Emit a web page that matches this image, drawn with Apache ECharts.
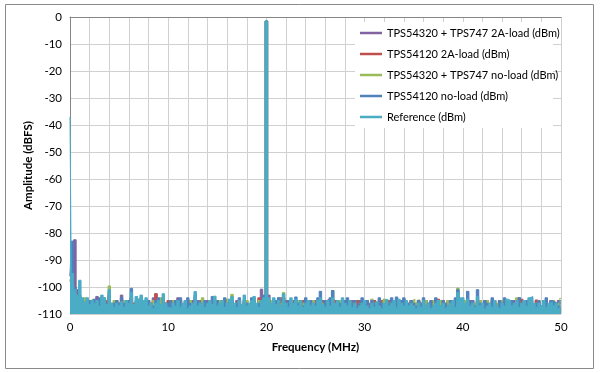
<!DOCTYPE html>
<html><head><meta charset="utf-8">
<script src="https://cdn.jsdelivr.net/npm/echarts@6/dist/echarts.min.js"></script>
<style>html,body{margin:0;padding:0;background:#fff}#c{width:600px;height:373px}</style>
</head><body><div id="c"></div>
<script>
// Frequency grid: one sample every 0.25 MHz from 0 to 50 MHz (201 samples)
const FREQ_STEP = 0.25;
const seriesNames = [
  'TPS54320 + TPS747 2A-load (dBm)',
  'TPS54120 2A-load (dBm)',
  'TPS54320 + TPS747 no-load (dBm)',
  'TPS54120 no-load (dBm)',
  'Reference (dBm)'
];
const yTicks = [0,-10,-20,-30,-40,-50,-60,-70,-80,-90,-100,-110];
const xTicks = [0,10,20,30,40,50];

const tps54320_2A = [
-96,-90,-82.5,-101,-104,-105,-106,-105,-107,-106,-105,-103.5,-106,-107,-105,-106,-104,-107,-106,-105,
-106,-103,-107,-106,-105,-104,-106,-107,-105,-104,-106,-107,-105,-106,-104,-102.5,-106,-107,-105,-106,
-107,-106,-105,-107,-104,-106,-107,-105,-106,-107,-105,-106,-107,-105,-106,-107,-105,-106,-107,-105,
-106,-107,-105,-106,-107,-105,-106,-107,-105,-106,-107,-105,-106,-107,-105,-106,-107,-105,-100.8,-105,
-1.5,-103,-106,-105,-107,-106,-104,-107,-105,-106,-107,-105,-106,-107,-105,-106,-107,-105,-106,-107,
-105,-106,-107,-105,-106,-107,-105,-106,-107,-105,-106,-107,-105,-106,-107,-105,-106,-107,-105,-106,
-107,-105,-106,-107,-105,-106,-107,-105,-106,-107,-105,-106,-107,-105,-106,-107,-105,-106,-107,-105,
-106,-107,-105,-106,-107,-105,-106,-107,-105,-106,-107,-105,-106,-107,-105,-106,-107,-105,-106,-107,
-105,-106,-107,-105,-106,-107,-105,-106,-107,-105,-106,-107,-105,-106,-107,-105,-106,-107,-105,-106,
-107,-105,-106,-104,-105,-106,-107,-105,-106,-107,-105,-106,-107,-105,-106,-107,-105,-106,-107,-105,-106
];
const tps54120_2A = [
-98,-96,-101,-104,-105,-106,-105,-107,-106,-105,-107,-106,-105,-107,-106,-105,-102,-107,-106,-105,
-106,-107,-105,-106,-107,-104,-106,-107,-105,-106,-107,-105,-106,-107,-105,-102.5,-106,-107,-104.5,-106,
-105,-106,-105.5,-107,-106,-105,-107,-106,-105,-107,-106,-104,-107,-106,-105,-107,-106,-105,-107,-106,
-105,-107,-106,-105,-107,-106,-105,-107,-106,-105,-107,-106,-105,-107,-106,-105,-107,-104,-106,-105,
-1.5,-106,-105,-107,-106,-105,-107,-104,-106,-105,-107,-106,-105,-107,-106,-105,-107,-106,-105,-107,
-106,-105,-107,-106,-105,-104.6,-106,-107,-105,-106,-107,-105,-106,-107,-105,-106,-107,-105,-106,-107,
-106,-105,-107,-106,-105,-107,-106,-105,-107,-106,-105,-107,-106,-105,-107,-106,-105,-107,-106,-105,
-107,-106,-105,-107,-106,-105,-107,-106,-105,-107,-104.5,-106,-105,-107,-106,-105,-107,-106,-105,-107,
-106,-105,-107,-106,-105,-107,-106,-105,-107,-106,-105,-107,-106,-105,-107,-106,-105,-107,-106,-105,
-107,-106,-105,-107,-104.5,-106,-107,-105,-106,-107,-104.8,-106,-107,-105,-106,-107,-105,-106,-107,-106,-105
];
const tps54320_noLoad = [
-97,-99,-102,-104,-105,-106,-104,-107,-105,-104.5,-106,-107,-105,-106,-104,-107,-99.6,-106,-105,-107,
-106,-107,-105,-106,-107,-105,-107,-106,-104.5,-107,-106,-105,-107,-106,-105,-107,-106,-104,-107,-106,
-107,-106,-105,-107,-106,-105.5,-107,-106,-107,-105,-107,-106,-105,-107,-104,-106,-107,-105,-107,-106,
-107,-105,-106,-107,-104.5,-106,-102.7,-107,-106,-105,-107,-106,-105,-107,-106,-104,-107,-105,-106,-107,
-1.5,-106,-105,-107,-106,-104,-106,-102,-107,-106,-105,-107,-106,-105,-107,-106,-105,-107,-106,-105,
-106,-107,-105,-106,-107,-106,-105,-101.3,-107,-106,-105,-107,-106,-105,-107,-106,-105,-107,-106,-105.5,
-105,-106,-107,-104.5,-106,-107,-105,-106,-104.5,-107,-106,-105,-107,-106,-105,-107,-104.5,-106,-107,-105,
-104.5,-106,-104.8,-107,-106,-105,-107,-106,-105,-107,-106,-105,-107,-106,-105,-107,-106,-105,-100.4,-106,
-107,-105,-106,-107,-105,-106,-107,-105,-106,-107,-105,-106,-107,-105,-106,-107,-105,-106,-107,-105,
-106,-107,-104,-106,-107,-105,-107,-106,-105,-107,-106,-105,-107,-106,-105,-107,-106,-105,-107,-106,-104.2
];
const tps54120_noLoad = [
-96,-83,-100,-104,-103,-105,-106,-107,-105,-106,-104.5,-106,-104,-107,-105,-106,-103,-107,-106,-105,
-106,-104,-106,-107,-105,-100.5,-107,-105,-106,-104,-106,-107,-105,-106,-107,-105,-104,-107,-104,-106,
-106,-105,-107,-105,-106,-104,-107,-106,-104,-106,-107,-103,-105,-106,-107,-105,-106,-107,-103.5,-106,
-105,-107,-106,-104,-107,-106,-105,-107,-106,-104,-107,-105,-106,-107,-104,-105,-107,-106,-105,-103,
-1.5,-105,-107,-106,-105,-104,-107,-104,-106,-105,-107,-106,-103.7,-106,-105,-107,-104,-106,-105,-107,
-106,-104,-101.6,-107,-105,-106,-104,-101.3,-107,-105,-106,-107,-105,-104,-107,-106,-105,-107,-106,-104,
-106,-105,-107,-105,-106,-107,-104,-106,-107,-105,-106,-104,-107,-103.7,-106,-105,-104,-107,-106,-105,
-106,-107,-105,-106,-104,-107,-106,-105,-107,-104,-106,-107,-105,-106,-107,-105,-106,-104,-101,-105,
-106,-107,-101.6,-106,-105,-107,-101,-106,-107,-105,-106,-107,-104,-106,-107,-105,-106,-104,-106,-107,
-105,-107,-106,-104,-107,-105,-105,-106,-104,-107,-106,-105,-107,-106,-104,-107,-105,-105.5,-106,-107,-105
];
const reference = [
-37,-95,-101,-103,-97.5,-104,-105.5,-104,-106.5,-105,-106,-105,-107,-103,-104,-106.5,-101,-106,-107.5,-106,
-107,-105.5,-107.5,-105,-106,-102,-106.5,-103.5,-104.5,-103,-105,-104,-107,-106,-108,-106,-105,-106.5,-102.5,-106,
-107.5,-108,-106,-107,-105,-107.5,-106,-105,-108,-107,-106,-101.7,-107,-106,-105.5,-107.5,-106,-105,-106.5,-103.4,
-107,-106,-105,-107.5,-106,-104.5,-103.5,-106,-107.5,-105,-106.5,-103,-107,-106,-105,-103.5,-106,-107.5,-105,-104,
-1.5,-104,-106,-104,-106.5,-105,-107,-102.5,-106,-107.5,-104,-106,-104.5,-107,-105,-107.5,-106,-105,-107,-106,
-107,-105,-104,-106.5,-107.5,-105,-107,-104,-106,-105,-107.5,-104,-106,-107,-105,-107.5,-106,-108,-107,-106,
-105,-107,-108,-106,-107.5,-105.5,-107,-108,-106,-104.6,-107,-106,-105,-107.5,-104.5,-106,-107,-105,-107,-106,
-107,-108,-106,-107.5,-105,-107,-106,-108,-107,-106,-105,-107,-106,-108,-107,-106,-105,-107.5,-102,-104,
-104,-106,-104.5,-107,-106,-107.5,-103.5,-107,-106,-108,-107,-106,-107.5,-105,-107,-108,-106,-107,-104.5,-105,
-107,-106,-105,-107.5,-106,-105,-107,-104,-103.5,-106,-107.5,-106,-107,-105,-107.5,-106,-105.5,-107,-106,-108,-105
];
const seriesValues = [tps54320_2A, tps54120_2A, tps54320_noLoad, tps54120_noLoad, reference];
const colors = ['#8064A2','#C0504D','#9BBB59','#4F81BD','#4BACC6'];

const FONT = 'Lato';
const chart = echarts.init(document.getElementById('c'), null, {renderer:'canvas'});
chart.setOption({
  animation: false,
  backgroundColor: '#fff',
  grid: {left: 70, right: 39, top: 17, bottom: 59, containLabel: false},
  xAxis: {
    type: 'value', min: 0, max: 50, interval: 2,
    name: 'Frequency (MHz)', nameLocation: 'middle', nameGap: 27,
    nameTextStyle: {fontFamily: FONT, fontSize: 11.5, fontWeight: 'bold', color: '#000'},
    axisLine: {lineStyle: {color: '#868686'}},
    axisTick: {show: false},
    axisLabel: {fontFamily: FONT, fontSize: 11.5, color: '#000', margin: 7,
      formatter: v => xTicks.indexOf(v) >= 0 ? String(v) : ''},
    splitLine: {show: true, lineStyle: {color: '#d0d0d0', width: 1}}
  },
  yAxis: {
    type: 'value', min: -110, max: 0, interval: 10,
    name: 'Amplitude (dBFS)', nameLocation: 'middle', nameGap: 36, nameMoveOverlap: false,
    nameTextStyle: {fontFamily: FONT, fontSize: 11.5, fontWeight: 'bold', color: '#000'},
    axisLine: {show: true, lineStyle: {color: '#868686'}},
    axisTick: {show: false},
    axisLabel: {fontFamily: FONT, fontSize: 11.5, color: '#000', margin: 8,
      formatter: v => yTicks.indexOf(v) >= 0 ? String(v) : ''},
    splitLine: {show: true, lineStyle: {color: '#d0d0d0', width: 1}}
  },
  legend: {
    orient: 'vertical', left: 355, top: 21, itemGap: 7,
    itemWidth: 22, itemHeight: 2.5, icon: 'rect',
    textStyle: {fontFamily: FONT, fontSize: 11, color: '#000', lineHeight: 14},
    data: seriesNames
  },
  graphic: [
    {type: 'rect', z: 3, shape: {x: 355, y: 22, width: 198, height: 106}, style: {fill: '#fff'}},
    {type: 'rect', z: 10, shape: {x: 5.5, y: 4.5, width: 588, height: 364}, style: {fill: 'none', stroke: '#8a8a8a', lineWidth: 1}}
  ],
  series: seriesNames.map((n, k) => ({
    name: n, type: 'line', showSymbol: false, symbol: 'none', step: 'middle',
    data: seriesValues[k].map((v, i) => [i * FREQ_STEP, v]),
    lineStyle: {color: colors[k], width: 1},
    itemStyle: {color: colors[k]},
    areaStyle: {color: colors[k], opacity: 1, origin: 'start'},
    z: 2 + k * 0.01
  }))
});
</script></body></html>
